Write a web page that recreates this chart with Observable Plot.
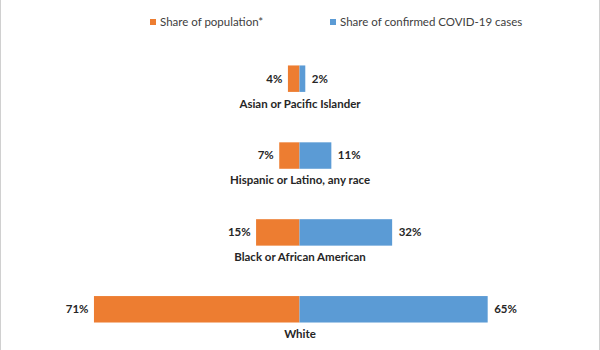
<!DOCTYPE html>
<html>
<head>
<meta charset="utf-8">
<script src="https://cdn.jsdelivr.net/npm/d3@7"></script>
<script src="https://cdn.jsdelivr.net/npm/@observablehq/plot@0.6"></script>
<style>
  html, body { margin: 0; padding: 0; background: #fff; }
  #wrap { position: relative; width: 600px; height: 350px; box-sizing: border-box;
          border-left: 1px solid #d0d0d0; border-right: 1px solid #d0d0d0; overflow: hidden;
          font-family: Lato, "Open Sans", sans-serif; }
  #legend { position: absolute; left: 0; top: 0; width: 600px; height: 39px; }
  .item { position: absolute; top: 15px; font-size: 11.5px; color: #404040; white-space: nowrap; line-height: 14px; }
  .sw { display: inline-block; width: 6px; height: 6px; margin-right: 4px; vertical-align: 1px; }
  #chart { position: absolute; left: -1px; top: 39px; }
</style>
</head>
<body>
<div id="wrap">
  <div id="legend"></div>
  <div id="chart"></div>
</div>
<script>
const categories = ["Asian or Pacific Islander", "Hispanic or Latino, any race", "Black or African American", "White"];
const populationShare = [4, 7, 15, 71];
const caseShare = [2, 11, 32, 65];
const seriesNames = ["Share of population*", "Share of confirmed COVID-19 cases"];
const seriesColors = ["#ED7D31", "#5B9BD5"];

const legend = document.getElementById("legend");
const legendX = [149, 329];
seriesNames.forEach((name, i) => {
  const d = document.createElement("div");
  d.className = "item";
  d.style.left = legendX[i] + "px";
  d.innerHTML = `<span class="sw" style="background:${seriesColors[i]}"></span>${name}`;
  legend.appendChild(d);
});

const rows = categories.map((c, i) => ({category: c, pop: populationShare[i], cases: caseShare[i]}));

const chart = Plot.plot({
  width: 600,
  height: 310,
  marginTop: 0, marginBottom: 0, marginLeft: 0, marginRight: 0,
  style: {fontFamily: "Lato, 'Open Sans', sans-serif", background: "transparent"},
  x: {domain: [-103.45, 103.45], axis: null},
  y: {domain: categories, padding: 0, axis: null},
  marks: [
    Plot.barX(rows, {y: "category", x1: d => -d.pop, x2: 0, fill: seriesColors[0], insetTop: 25.5, insetBottom: 25}),
    Plot.barX(rows, {y: "category", x1: 0, x2: "cases", fill: seriesColors[1], insetTop: 25.5, insetBottom: 25}),
    Plot.text(rows, {y: "category", x: d => -d.pop, text: d => d.pop + "%", textAnchor: "end", dx: -6,
      fontSize: 11.5, fontWeight: "bold", fill: "#262626"}),
    Plot.text(rows, {y: "category", x: "cases", text: d => d.cases + "%", textAnchor: "start", dx: 6,
      fontSize: 11.5, fontWeight: "bold", fill: "#262626"}),
    Plot.text(rows, {y: "category", x: 0, text: "category", dy: 25, fontSize: 11.5, fontWeight: "bold", fill: "#262626"})
  ]
});
document.getElementById("chart").appendChild(chart);
</script>
</body>
</html>
